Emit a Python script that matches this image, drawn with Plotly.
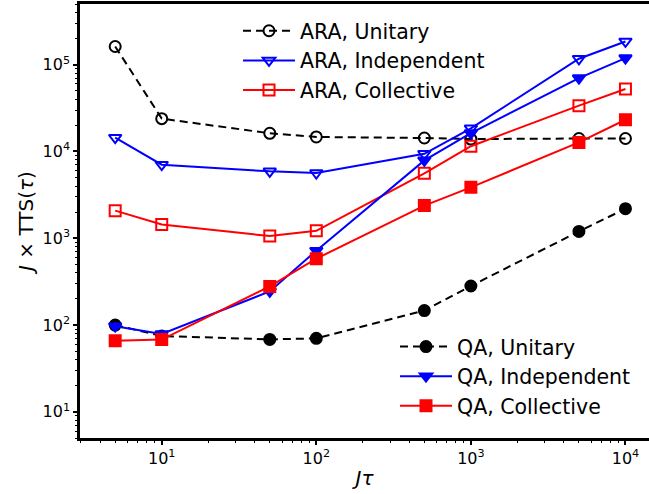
import numpy as np
import plotly.graph_objects as go

# Annealing time (J*tau)
jtau = [5, 10, 50, 100, 500, 1000, 5000, 10000]

# J x TTS(tau) for each protocol / noise model
ara_unitary = [1.62e5, 2.39e4, 1.62e4, 1.47e4, 1.43e4, 1.39e4, 1.41e4, 1.41e4]
ara_independent = [1.44e4, 7.05e3, 5.9e3, 5.65e3, 9.4e3, 1.85e4, 1.17e5, 1.85e5]
ara_collective = [2.08e3, 1.44e3, 1.06e3, 1.22e3, 5.6e3, 1.15e4, 3.37e4, 5.25e4]
qa_unitary = [100, 74.8, 68.4, 70.3, 147, 282, 1.2e3, 2.19e3]
qa_independent = [97, 79, 244, 720, 7.9e3, 1.63e4, 7.0e4, 1.19e5]
qa_collective = [66, 68, 279, 582, 2.38e3, 3.86e3, 1.27e4, 2.32e4]

# Decade tick labels
x_tick_exps = [1, 2, 3, 4]
y_tick_exps = [1, 2, 3, 4, 5]

BLUE = "#0000ff"
RED = "#ff0000"
BLACK = "#000000"
DASH = "8px,5px"
LW = 2

series = [
    ("ARA, Unitary", ara_unitary, BLACK, "circle-open", DASH, 11, "legend"),
    ("ARA, Independent", ara_independent, BLUE, "triangle-down-open", "solid", 11, "legend"),
    ("ARA, Collective", ara_collective, RED, "square-open", "solid", 11, "legend"),
    ("QA, Unitary", qa_unitary, BLACK, "circle", DASH, 11, "legend2"),
    ("QA, Independent", qa_independent, BLUE, "triangle-down", "solid", 11, "legend2"),
    ("QA, Collective", qa_collective, RED, "square", "solid", 11, "legend2"),
]

fig = go.Figure()
for name, vals, color, symbol, dash, size, leg in series:
    fig.add_trace(go.Scatter(
        x=jtau, y=vals, name=name, mode="lines+markers",
        line=dict(color=color, width=LW, dash=dash),
        marker=dict(symbol=symbol, size=size, color=color,
                    line=dict(color=color, width=2)),
        legend=leg,
    ))

font = "DejaVu Sans"
axis_common = dict(
    type="log", showgrid=False, zeroline=False,
    showline=True, linecolor="black", linewidth=2.5,
    ticks="outside", ticklen=4, tickwidth=1.5, tickcolor="black",
    tickfont=dict(family=font, size=16, color="black"),
    minor=dict(ticks="outside", ticklen=2.5, tickwidth=1, tickcolor="black", dtick="D1",
               showgrid=False),
)

fig.update_xaxes(
    **axis_common, range=[np.log10(2.96), np.log10(14200)], mirror=True,
    tickvals=[10 ** e for e in x_tick_exps],
    ticktext=[f"10<sup>{e}</sup>" for e in x_tick_exps],
    title=dict(text="<i>J</i><i>τ</i>", font=dict(family=font, size=20, color="black"),
               standoff=5),
)
fig.update_yaxes(
    **axis_common, range=[np.log10(5), np.log10(5e5)],
    tickvals=[10 ** e for e in y_tick_exps],
    ticktext=[f"10<sup>{e}</sup>" for e in y_tick_exps],
    title=dict(text="<i>J</i> × TTS(<i>τ</i>)", font=dict(family=font, size=20, color="black"),
               standoff=4),
)

legend_style = dict(
    bgcolor="rgba(0,0,0,0)", borderwidth=0, itemwidth=52,
    font=dict(family=font, size=20.5, color="black"), tracegroupgap=0,
    xanchor="left", yanchor="top", xref="paper", yref="paper",
)
fig.update_layout(
    width=649, height=494,
    margin=dict(l=80, r=0, t=4, b=56),
    paper_bgcolor="white", plot_bgcolor="white",
    showlegend=True,
    legend=dict(**legend_style, x=0.2777, y=0.984),
    legend2=dict(**legend_style, x=0.5536, y=0.2564),
)

fig.write_html("out.html")
